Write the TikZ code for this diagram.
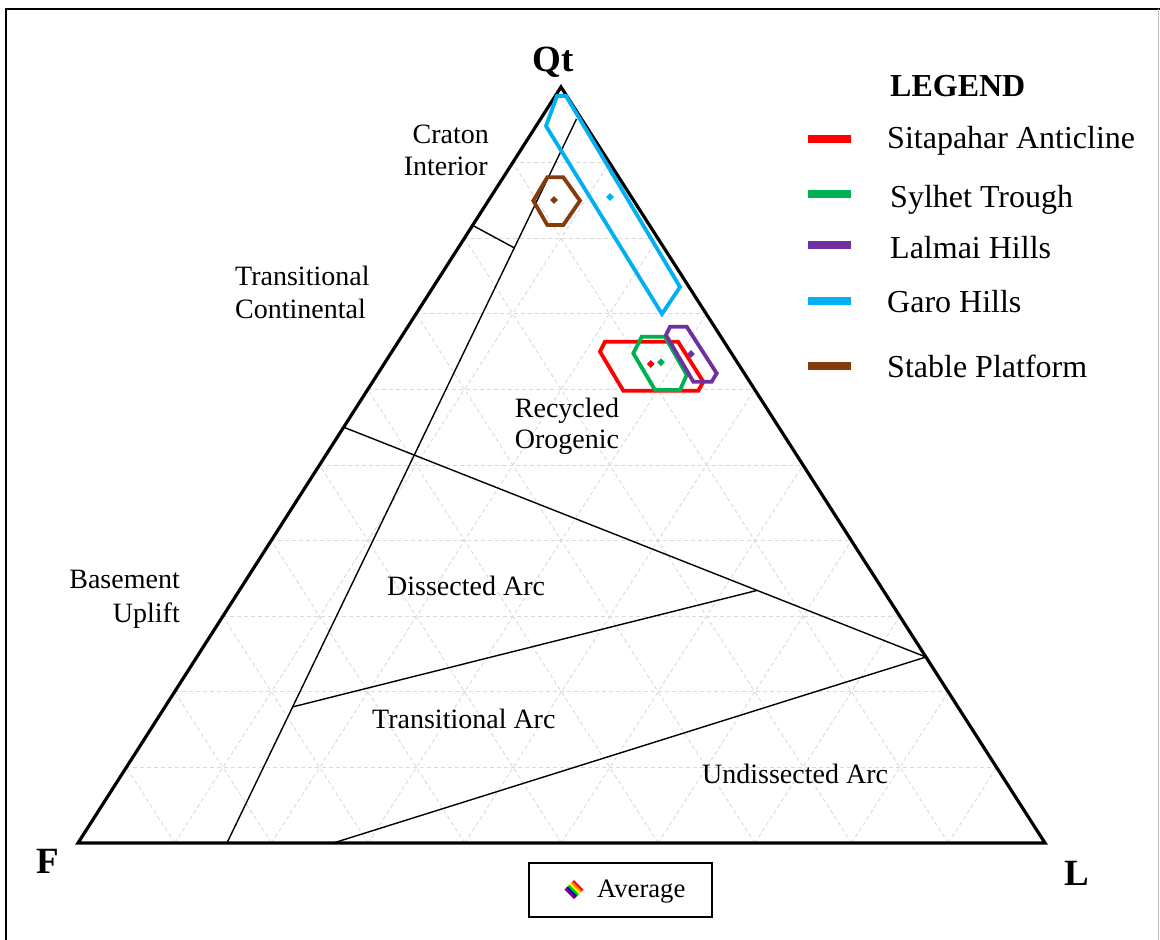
\documentclass[tikz,border=0pt]{standalone}
\usepackage{fontspec}
\setmainfont{Liberation Serif}
\usetikzlibrary{calc,shapes.geometric}
\definecolor{cred}{HTML}{FF0000}
\definecolor{cgreen}{HTML}{00B050}
\definecolor{cpurple}{HTML}{7030A0}
\definecolor{cblue}{HTML}{00B0F0}
\definecolor{cbrown}{HTML}{843C0C}
\definecolor{gridgray}{HTML}{D9D9D9}
\tikzset{
  gridline/.style={draw=gridgray, line width=0.9pt, dash pattern=on 4pt off 3pt},
  fieldline/.style={draw=black, line width=1.4pt},
  frameline/.style={draw=black, line width=3.2pt, line join=miter},
  poly/.style={line width=3.8pt, line join=miter},
  avgpt/.style={diamond, aspect=1, inner sep=0pt, minimum width=8pt, minimum height=8pt, fill=#1},
  lbl/.style={inner sep=0pt, font=\fontsize{28}{32}\selectfont},
  lgtxt/.style={inner sep=0pt, anchor=base west, font=\fontsize{32}{36}\selectfont},
  apex/.style={inner sep=0pt, font=\fontsize{37}{40}\selectfont\bfseries},
  swatch/.style={line width=8pt, draw=#1}
}
\begin{document}
\begin{tikzpicture}[x=1pt,y=-1pt]
\useasboundingbox (0,0) rectangle (1160,940);
% outer frame
\draw[black, line width=2.4pt] (6,941) -- (6,9) -- (1160,9);
\draw[gray!50, line width=1pt] (1158,9) -- (1158,941);

% triangle corners
\coordinate (vQ) at (561,87);
\coordinate (vF) at (78,843);
\coordinate (vL) at (1045,843);

% grid
\foreach \i in {1,...,9}{
  \draw[gridline] ($(vF)!0.\i!(vQ)$) -- ($(vL)!0.\i!(vQ)$);
  \draw[gridline] ($(vF)!0.\i!(vL)$) -- ($(vQ)!0.\i!(vL)$);
  \draw[gridline] ($(vL)!0.\i!(vF)$) -- ($(vQ)!0.\i!(vF)$);
}

% field boundaries
\coordinate (p1) at (576.5,119);
\coordinate (p2) at ($(vF)!0.154!(vL)$);
\coordinate (p3) at ($(vQ)!0.183!(vF)$);
\coordinate (p4) at ($(p1)!0.178!(p2)$);
\coordinate (p5) at ($(vQ)!0.45!(vF)$);
\coordinate (p6) at ($(vQ)!0.754!(vL)$);
\coordinate (p7) at ($(vF)!0.264!(vL)$);
\coordinate (p8) at ($(p1)!0.812!(p2)$);
\coordinate (p9) at ($(p5)!0.71!(p6)$);
\draw[fieldline] (p1) -- (p2);
\draw[fieldline] (p3) -- (p4);
\draw[fieldline] (p5) -- (p6);
\draw[fieldline] (p8) -- (p9);
\draw[fieldline] (p7) -- (p6);

% triangle
\draw[frameline] (vF) -- (vQ) -- (vL) -- cycle;

% data polygons
\draw[poly, cblue] (557,96) -- (566,96) -- (680,287) -- (662,314) -- (546,126) -- cycle;
\draw[poly, cbrown] (547.3,177.3) -- (563.3,177.3) -- (580,200.7) -- (563.3,225) -- (547.3,225) -- (533.3,200.7) -- cycle;
\draw[poly, cred] (605,341.7) -- (678,341.7) -- (703.3,381.7) -- (698.3,390.7) -- (623.3,390.7) -- (600,351.7) -- cycle;
\draw[poly, cgreen] (641.7,336.7) -- (665,336.7) -- (686.7,375) -- (680,390) -- (655,390) -- (633.3,353.3) -- cycle;
\draw[poly, cpurple] (670,326.7) -- (686.7,326.7) -- (716.7,373.3) -- (711.7,381.7) -- (693.3,381.7) -- (666,335) -- cycle;

% averages
\node[avgpt=cblue] (avgGaro) at (610,197) {};
\node[avgpt=cbrown] (avgStable) at (554,200) {};
\node[avgpt=cred] (avgSita) at (650.7,364) {};
\node[avgpt=cgreen] (avgSyl) at (661,362.3) {};
\node[avgpt=cpurple] (avgLal) at (691,354) {};

% apex labels
\node[apex, anchor=base] (lQt) at (553.5,71) {Qt};
\node[apex, anchor=base west] (lF) at (36,873) {F};
\node[apex, anchor=base west] (lL) at (1064,885) {L};

% field labels
\node[lbl, anchor=base east] (cr1) at (489,143) {Craton};
\node[lbl, anchor=base east] (cr2) at (488,175) {Interior};
\node[lbl, anchor=base west] (tc1) at (235,285) {Transitional};
\node[lbl, anchor=base west] (tc2) at (235,318) {Continental};
\node[lbl, anchor=base] (ro1) at (567,417) {Recycled};
\node[lbl, anchor=base] (ro2) at (567,448) {Orogenic};
\node[lbl, anchor=base east] (bu1) at (180,588) {Basement};
\node[lbl, anchor=base east] (bu2) at (180,622) {Uplift};
\node[lbl, anchor=base west] (da) at (387,595) {Dissected Arc};
\node[lbl, anchor=base west] (ta) at (372,728) {Transitional Arc};
\node[lbl, anchor=base west] (ua) at (702,783) {Undissected Arc};

% legend
\node[lgtxt, font=\fontsize{32}{36}\selectfont\bfseries] (lgtitle) at (890,96) {LEGEND};
\draw[swatch=cred] (808,139) -- (851,139);
\draw[swatch=cgreen] (808,194) -- (851,194);
\draw[swatch=cpurple] (808,245) -- (851,245);
\draw[swatch=cblue] (808,301) -- (851,301);
\draw[swatch=cbrown] (808,366) -- (851,366);
\node[lgtxt] (lg1) at (887,148) {Sitapahar Anticline};
\node[lgtxt] (lg2) at (890,207) {Sylhet Trough};
\node[lgtxt] (lg3) at (890,258) {Lalmai Hills};
\node[lgtxt] (lg4) at (887,312) {Garo Hills};
\node[lgtxt] (lg5) at (887,377) {Stable Platform};

% average box
\draw[black, line width=1.4pt] (529,863) rectangle (712,917);
\coordinate (rb) at (574,889.5);
\begin{scope}
  \clip (574,880) -- (583.5,889.5) -- (574,899) -- (564.5,889.5) -- cycle;
  \foreach \c [count=\k from 0] in {red,orange,yellow,green!80!black,blue,violet}{
    \draw[line width=2.4pt, \c] ($(rb)+({(\k-2.5)*2.24*-0.7071},{(\k-2.5)*2.24*0.7071})$) ++(-15,-15) -- ++(30,30);
  }
\end{scope}
\node[inner sep=0pt, anchor=base west, font=\fontsize{26.6}{30}\selectfont] (avgtxt) at (597,897) {Average};
\end{tikzpicture}
\end{document}
